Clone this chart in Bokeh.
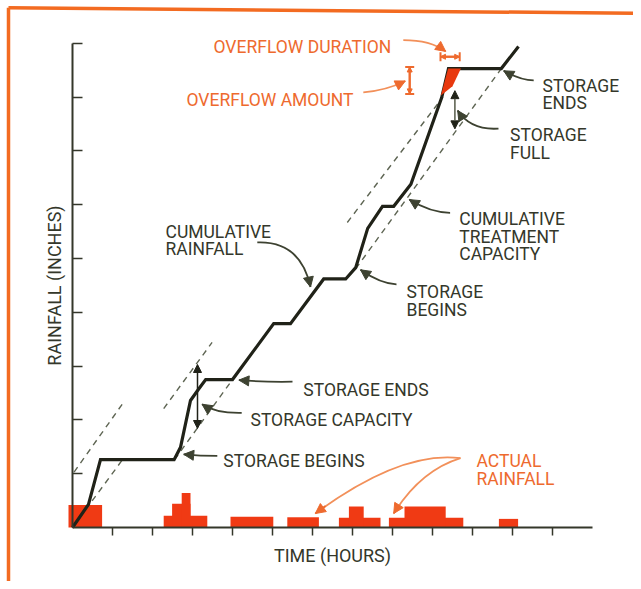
from bokeh.plotting import figure
from bokeh.models import Range1d, FixedTicker, Arrow, NormalHead, TeeHead, CustomJSTickFormatter
from bokeh.core.properties import value
from bokeh.embed import file_html
from bokeh.resources import INLINE

# ---------------- data (hours, inches) ----------------
x_ticks = [1, 2, 3, 4, 5, 6, 7, 8, 9, 10, 11, 12]
y_ticks = [1, 2, 3, 4, 5, 6, 7, 8, 9]

# cumulative rainfall curve
rain_hours = [0, 0.4, 0.7, 2.54, 2.7, 2.95, 3.15, 3.33, 4.0, 5.03, 5.45, 6.28, 6.83,
              7.08, 7.38, 7.75, 8.03, 8.46, 9.23, 9.4, 9.73, 10.72, 11.15]
rain_cum = [0, 0.43, 1.26, 1.26, 1.49, 2.36, 2.57, 2.75, 2.75, 3.79, 3.79, 4.62, 4.62,
            4.83, 5.56, 5.97, 5.97, 6.38, 7.99, 8.53, 8.53, 8.53, 8.94]

# actual rainfall blocks
bar_left = [-0.1, 2.28, 2.49, 2.73, 3.95, 5.37, 6.66, 6.91, 7.91, 8.3, 10.66]
bar_right = [0.74, 3.37, 2.95, 2.95, 5.02, 6.16, 7.7, 7.28, 9.77, 9.33, 11.14]
bar_top = [0.42, 0.22, 0.44, 0.64, 0.2, 0.19, 0.18, 0.39, 0.18, 0.39, 0.16]

# cumulative treatment capacity (lower dashed) lines
cap_x0 = [0.0, 2.55, 7.08]
cap_y0 = [0.0, 1.26, 4.81]
cap_x1 = [1.25, 4.0, 10.72]
cap_y1 = [1.26, 2.75, 8.53]
# treatment capacity + storage capacity (upper dashed) lines
full_x0 = [0.04, 2.28, 6.87]
full_y0 = [1.03, 2.21, 5.67]
full_x1 = [1.28, 3.49, 9.26]
full_y1 = [2.33, 3.44, 8.0]

# overflow area
overflow_x = [9.21, 9.39, 9.71, 9.5]
overflow_y = [8.03, 8.53, 8.53, 8.2]

# dark labels: text, left x, baseline y
lab_text = ["STORAGE", "ENDS", "STORAGE", "FULL", "CUMULATIVE", "TREATMENT", "CAPACITY",
            "STORAGE", "BEGINS", "CUMULATIVE", "RAINFALL", "STORAGE ENDS",
            "STORAGE CAPACITY", "STORAGE BEGINS"]
lab_x = [11.75, 11.75, 10.94, 10.94, 9.67, 9.67, 9.67, 8.35, 8.35, 2.325, 2.325, 5.77, 4.45, 3.77]
lab_y = [8.20, 7.89, 7.29, 6.96, 5.73, 5.40, 5.08, 4.37, 4.04, 5.49, 5.18, 2.56, 2.0, 1.23]

# orange labels
olab_text = ["OVERFLOW DURATION", "OVERFLOW AMOUNT", "ACTUAL", "RAINFALL"]
olab_x = [3.525, 2.85, 10.1, 10.1]
olab_y = [8.93, 7.94, 1.23, 0.905]

# dark curved pointers: start, control, end
arr_x0 = [11.53, 10.65, 9.44, 8.1, 4.62, 5.5, 4.23, 3.62]
arr_y0 = [8.31, 7.415, 5.85, 4.52, 5.30, 2.71, 2.13, 1.33]
arr_cx = [11.2, 9.95, 8.95, 7.7, 5.7, 4.83, 3.58, 3.2]
arr_cy = [8.31, 7.38, 5.85, 4.53, 5.33, 2.70, 2.12, 1.33]
arr_x1 = [10.78, 9.63, 8.42, 7.2, 5.95, 4.16, 3.24, 2.78]
arr_y1 = [8.49, 7.75, 6.095, 4.79, 4.47, 2.74, 2.29, 1.36]

# orange curved pointers
oarr_x0 = [9.7, 9.7, 8.27, 7.27]
oarr_y0 = [1.29, 1.29, 9.06, 8.09]
oarr_cx = [8.2, 8.7, 8.95, 7.83]
oarr_cy = [1.43, 1.06, 9.06, 8.12]
oarr_x1 = [6.07, 8.03, 9.33, 8.32]
oarr_y1 = [0.26, 0.26, 8.85, 8.3]

# dimension markers
stor_cap_x = 3.125
stor_cap_y = (3.03, 1.84)
stor_full_x = 9.56
stor_full_y = (8.12, 7.41)
dur_y = 8.75
dur_x = (9.2, 9.68)
amt_x = 8.43
amt_y = (8.56, 8.06)

# ---------------- styling ----------------
INK = "#202218"
TXT = "#34372a"
DASH = "#5e6553"
ORANGE = "#ee6a2e"
ORANGE_LIGHT = "#f2905a"
RED = "#f03a14"
BORDER = "#f36b21"
FONT = value("Roboto")
FS = value("17.5px")

p = figure(width=633, height=581, output_backend="svg", toolbar_location=None,
           x_range=Range1d(-1.8, 14.025), y_range=Range1d(-1.004, 9.796),
           min_border=0, min_border_left=0, min_border_right=0,
           min_border_top=0, min_border_bottom=0,
           outline_line_color=None, background_fill_color="white",
           border_fill_color="white")
p.grid.visible = False

# axes
xa = p.xaxis[0]
ya = p.yaxis[0]
for ax in (xa, ya):
    ax.fixed_location = 0
    ax.axis_line_color = TXT
    ax.axis_line_width = 2
    ax.major_tick_line_color = TXT
    ax.major_tick_line_width = 1.5
    ax.minor_tick_line_color = None
    ax.formatter = CustomJSTickFormatter(code="return ''")
    ax.major_label_text_font_size = "1px"
    ax.major_label_standoff = 0
    ax.axis_label_text_font = "Roboto"
    ax.axis_label_text_font_size = "18px"
    ax.axis_label_text_font_style = "normal"
    ax.axis_label_text_color = TXT
xa.bounds = (0, 13)
ya.bounds = (0, 9)
xa.ticker = FixedTicker(ticks=x_ticks)
ya.ticker = FixedTicker(ticks=y_ticks)
xa.major_tick_in = 0
xa.major_tick_out = 8
ya.major_tick_in = 10
ya.major_tick_out = 0
xa.axis_label = "TIME (HOURS)"
ya.axis_label = "RAINFALL (INCHES)"
xa.axis_label_standoff = 9
ya.axis_label_standoff = 8

# orange page border
p.line([-1.6, -1.6], [-1.004, 9.66], line_color=BORDER, line_width=3.5)
p.line([-1.6, 14.025], [9.66, 9.56], line_color=BORDER, line_width=3.5)

# rainfall blocks
p.quad(left=bar_left, right=bar_right, bottom=0, top=bar_top,
       fill_color=RED, line_color=None)

# dashed capacity lines
p.segment(x0=cap_x0, y0=cap_y0, x1=cap_x1, y1=cap_y1,
          line_color=DASH, line_width=1.4, line_dash="6 5")
p.segment(x0=full_x0, y0=full_y0, x1=full_x1, y1=full_y1,
          line_color=DASH, line_width=1.4, line_dash="6 5")

# cumulative rainfall
p.line(rain_hours, rain_cum, line_color=INK, line_width=3.2, line_join="miter")

# overflow area
p.patch(overflow_x, overflow_y, fill_color="#e8380e", line_color=None)

# dimension arrows
p.add_layout(Arrow(start=NormalHead(size=8, fill_color=INK, line_color=INK),
                   end=NormalHead(size=8, fill_color=INK, line_color=INK),
                   x_start=stor_cap_x, y_start=stor_cap_y[0],
                   x_end=stor_cap_x, y_end=stor_cap_y[1],
                   line_color=INK, line_width=1.5))
p.add_layout(Arrow(start=NormalHead(size=8, fill_color=INK, line_color=INK),
                   end=NormalHead(size=8, fill_color=INK, line_color=INK),
                   x_start=stor_full_x, y_start=stor_full_y[0],
                   x_end=stor_full_x, y_end=stor_full_y[1],
                   line_color="#555a48", line_width=1.5))
for a0, a1, horiz in ((dur_x, dur_y, True), (amt_y, amt_x, False)):
    if horiz:
        kw = dict(x_start=a0[0], x_end=a0[1], y_start=a1, y_end=a1)
    else:
        kw = dict(x_start=a1, x_end=a1, y_start=a0[0], y_end=a0[1])
    p.add_layout(Arrow(start=TeeHead(size=9, line_color=ORANGE, line_width=2),
                       end=TeeHead(size=9, line_color=ORANGE, line_width=2),
                       line_color=ORANGE, line_width=2, **kw))
    p.add_layout(Arrow(start=NormalHead(size=5, fill_color=ORANGE, line_color=ORANGE),
                       end=NormalHead(size=5, fill_color=ORANGE, line_color=ORANGE),
                       line_color=ORANGE, line_width=2, **kw))

# curved pointers
p.quadratic(x0=arr_x0, y0=arr_y0, x1=arr_x1, y1=arr_y1, cx=arr_cx, cy=arr_cy,
            line_color="#3d4231", line_width=1.8)
p.quadratic(x0=oarr_x0, y0=oarr_y0, x1=oarr_x1, y1=oarr_y1, cx=oarr_cx, cy=oarr_cy,
            line_color=ORANGE_LIGHT, line_width=1.8)
for xs, ys, cxs, cys, xe, ye, col in ((arr_x0, arr_y0, arr_cx, arr_cy, arr_x1, arr_y1, "#3d4231"),
                                      (oarr_x0, oarr_y0, oarr_cx, oarr_cy, oarr_x1, oarr_y1, ORANGE)):
    for cx, cy, ex, ey in zip(cxs, cys, xe, ye):
        p.add_layout(Arrow(end=NormalHead(size=10, fill_color=col, line_color=col),
                           x_start=ex - 0.12 * (ex - cx), y_start=ey - 0.12 * (ey - cy),
                           x_end=ex, y_end=ey, line_color=col, line_width=1.8))

# labels
p.text(x=lab_x, y=lab_y, text=lab_text, text_font=FONT, text_font_size=FS,
       text_color=TXT, text_align="left", text_baseline="alphabetic")
p.text(x=olab_x, y=olab_y, text=olab_text, text_font=FONT, text_font_size=FS,
       text_color=ORANGE, text_align="left", text_baseline="alphabetic")

open("out.html", "w").write(file_html(p, INLINE))
